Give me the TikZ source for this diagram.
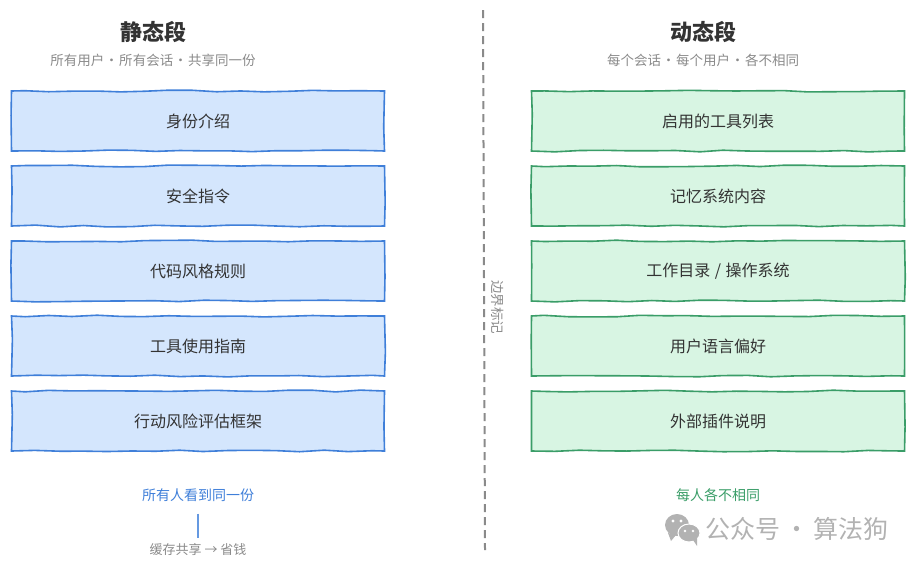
\documentclass[tikz,border=0pt]{standalone}
\usepackage{fontspec}
\setmainfont{Noto Sans CJK SC}
\usetikzlibrary{decorations.pathmorphing}
\definecolor{bLine}{HTML}{3F7FD9}
\definecolor{bFill}{HTML}{D4E6FD}
\definecolor{gLine}{HTML}{3A9D68}
\definecolor{gFill}{HTML}{D8F5E3}
\definecolor{tDark}{HTML}{333333}
\definecolor{tGray}{HTML}{8A8A8A}
\definecolor{wGray}{HTML}{B2B2B2}
\newcommand{\sepDot}{\makebox[15pt]{·}}
\tikzstyle{rough}=[decorate,decoration={random steps,segment length=24pt,amplitude=0.9pt}]
\tikzstyle{tS}=[inner sep = 0pt,text=tDark,font=\fontsize{22}{24}\selectfont\bfseries]
\tikzstyle{sS}=[inner sep = 0pt,text=tGray,font=\fontsize{13.5}{16}\selectfont]
\tikzstyle{cS}=[inner sep = 0pt,text=tGray,font=\fontsize{13}{15}\selectfont]
\tikzstyle{bS}=[rough,line width=1.6pt,draw=bLine,fill=bFill,minimum width=373pt,minimum height=60pt,inner sep = 0pt,text=tDark,font=\fontsize{16}{18}\selectfont]
\tikzstyle{gS}=[rough,line width=1.6pt,draw=gLine,fill=gFill,minimum width=373pt,minimum height=60pt,inner sep = 0pt,text=tDark,font=\fontsize{16}{18}\selectfont]
\tikzstyle{nB}=[inner sep = 0pt,text=bLine,font=\fontsize{14}{16}\selectfont]
\tikzstyle{nG}=[inner sep = 0pt,text=gLine,font=\fontsize{14}{16}\selectfont]
\tikzstyle{eB}=[line width=1.5pt,draw=bLine!80]
\tikzstyle{eD}=[line width=2pt,draw=tGray,dash pattern=on 8pt off 5pt]
\begin{document}
\begin{tikzpicture}[x=1pt,y=-1pt]
                \pgfmathsetseed{7}
                \useasboundingbox (0,0) rectangle (917,566);
                % static side
                \draw (153,32) node[tS] (tL) {静态段};
                \draw (153,60) node[sS] (sL) {所有用户\sepDot 所有会话\sepDot 共享同一份};
                \draw (198,121) node[bS] (b0) {身份介绍};
                \draw (198,196) node[bS] (b1) {安全指令};
                \draw (198,271) node[bS] (b2) {代码风格规则};
                \draw (198,346) node[bS] (b3) {工具使用指南};
                \draw (198,421) node[bS] (b4) {行动风险评估框架};
                \draw (198,495) node[nB] (nL) {所有人看到同一份};
                \draw (198,550) node[cS] (cL) {缓存共享 → 省钱};
                \path (nL) edge[eB,shorten <=12pt,shorten >=6pt] (cL);
                % dynamic side
                \draw (703,32) node[tS] (tR) {动态段};
                \draw (703,60) node[sS] (sR) {每个会话\sepDot 每个用户\sepDot 各不相同};
                \draw (718,121) node[gS] (g0) {启用的工具列表};
                \draw (718,196) node[gS] (g1) {记忆系统内容};
                \draw (718,271) node[gS] (g2) {工作目录\hspace{1pt} / \hspace{1pt}操作系统};
                \draw (718,346) node[gS] (g3) {用户语言偏好};
                \draw (718,421) node[gS] (g4) {外部插件说明};
                \draw (718,495) node[nG] (nR) {每人各不相同};
                % boundary
                \coordinate (dA) at (483,10);
                \coordinate (dB) at (485,550);
                \path (dA) edge[eD] (dB);
                \draw (498,307) node[sS,rotate=-90] (dT) {边界标记};
                % watermark
                \fill[wGray] (677,525) ellipse (12pt and 11pt);
                \fill[wGray] (668,533) -- (671,541) -- (676,535) -- cycle;
                \draw[white,line width=1pt,fill=wGray] (689,533) ellipse (11pt and 9pt);
                \fill[wGray] (693,540) -- (697,546) -- (697,537) -- cycle;
                \fill[white] (673,521) circle (1.6pt) (681,521) circle (1.6pt);
                \fill[white] (685,531) circle (1.3pt) (693,531) circle (1.3pt);
                \draw (797,529) node[inner sep=0pt,text=wGray,font=\fontsize{25}{27}\selectfont] (wM) {公众号\hspace{4pt}·\hspace{4pt}算法狗};
        \end{tikzpicture}
\end{document}
